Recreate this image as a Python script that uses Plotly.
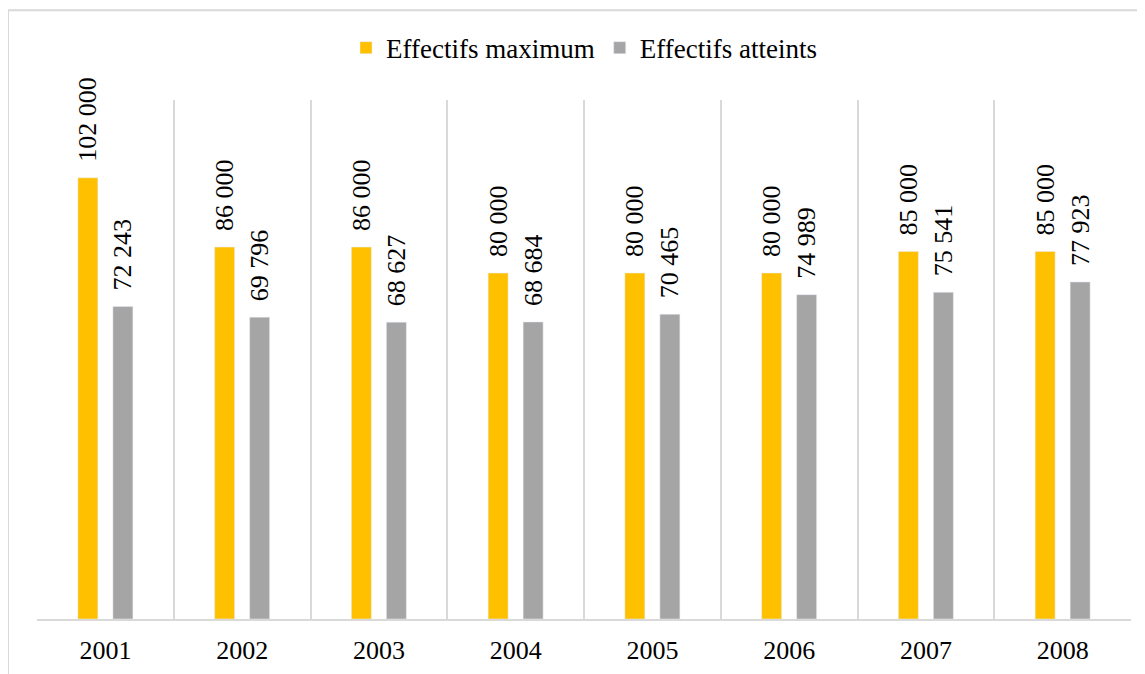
import plotly.graph_objects as go

years = [2001, 2002, 2003, 2004, 2005, 2006, 2007, 2008]
effectifs_maximum = [102000, 86000, 86000, 80000, 80000, 80000, 85000, 85000]
effectifs_atteints = [72243, 69796, 68627, 68684, 70465, 74989, 75541, 77923]

font_name = "Liberation Serif"
label_font = dict(family=font_name, size=26, color="black")
# non-breaking spaces keep the labels a little above the bars, as in Excel
label_tpl = "\u00a0\u00a0%{y:,}"

fig = go.Figure()
fig.add_trace(go.Bar(x=years, y=effectifs_maximum, name="Effectifs maximum",
                     marker_color="#FFC000", texttemplate=label_tpl,
                     textposition="outside", textangle=-90, cliponaxis=False,
                     constraintext="none", textfont=label_font))
fig.add_trace(go.Bar(x=years, y=effectifs_atteints, name="Effectifs atteints",
                     marker_color="#A5A5A5", texttemplate=label_tpl,
                     textposition="outside", textangle=-90, cliponaxis=False,
                     constraintext="none", textfont=label_font))

fig.update_layout(
    width=1137, height=666,
    margin={"l": 29, "r": 14, "t": 92, "b": 55, "autoexpand": False},
    paper_bgcolor="white", plot_bgcolor="white",
    font=dict(family=font_name, size=26, color="black"),
    separators=", ",
    barmode="group", bargap=0.488, bargroupgap=0.43,
    showlegend=True,
    legend=dict(orientation="h", x=0.5, xanchor="center", y=1.1, yanchor="middle",
                font=dict(family=font_name, size=27), bgcolor="rgba(0,0,0,0)",
                itemwidth=30, traceorder="normal"),
    shapes=[dict(type="rect", xref="paper", yref="paper", x0=-0.0265, x1=1.05,
                 y0=-0.2, y1=1.173, line=dict(color="#D9D9D9", width=2),
                 fillcolor="rgba(0,0,0,0)", layer="below")],
)
fig.update_xaxes(range=[2000.5, 2008.5], tickvals=years, ticktext=[str(y) for y in years],
                 showgrid=False, showline=True, linecolor="#D9D9D9", linewidth=2,
                 ticks="", zeroline=False, automargin=False, ticklabelstandoff=7,
                 tickfont=dict(family=font_name, size=26),
                 minor=dict(tick0=2000.5, dtick=1, showgrid=True, gridcolor="#D9D9D9",
                            gridwidth=2, ticks=""))
fig.update_yaxes(range=[0, 120000], visible=False, showgrid=False, automargin=False)

fig.write_html("out.html")
